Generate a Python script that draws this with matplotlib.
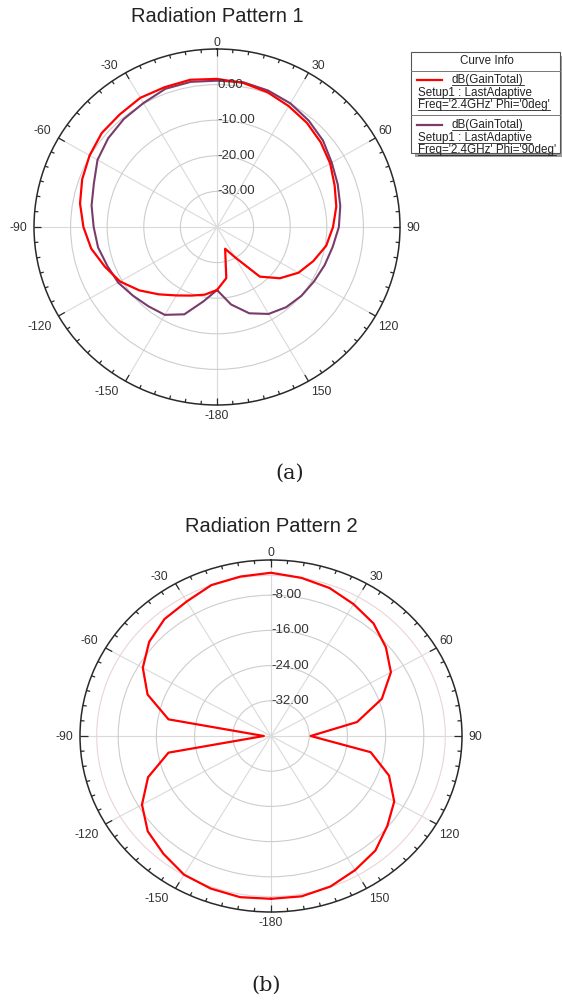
import matplotlib.pyplot as plt
import numpy as np
from matplotlib.lines import Line2D
from matplotlib.patches import Rectangle

plt.rcParams['font.family'] = ['Liberation Sans', 'DejaVu Sans']

W, H = 562, 1000

# Data (angle in deg, gain in dB)
angles = [-180, -170, -160, -150, -140, -130, -120, -110, -100, -90, -80, -70,
          -60, -50, -40, -30, -20, -10, 0, 10, 20, 30, 40, 50,
          60, 70, 80, 90, 100, 110, 120, 130, 140, 150, 160, 170]

gain_phi0 = [-22.3, -20.7, -19.5, -17.8, -15.3, -12.3, -9.4, -7.4, -5.1, -3.5, -2.0, -0.8,
             0.2, 1.1, 1.3, 1.9, 1.8, 2.0, 1.6, 1.1, 0.3, -0.8, -1.8, -3.0,
             -4.3, -5.8, -6.9, -8.3, -9.7, -12.0, -14.3, -17.6, -21.8, -30.2, -33.5, -25.4]

gain_phi90 = [-22.3, -18.8, -13.9, -11.5, -10.9, -10.0, -8.8, -8.1, -7.0, -6.3, -5.2, -4.2,
              -2.3, -1.2, -0.4, 0.2, 1.3, 1.4, 1.1, 1.3, 0.8, 0.1, -1.0, -2.2,
              -3.8, -4.9, -5.8, -6.7, -7.9, -8.7, -9.4, -9.9, -10.6, -11.8, -14.2, -17.9]

gain_2 = [-3.0, -2.8, -3.1, -3.6, -5.0, -6.3, -8.8, -12.6, -18.2, -38.5, -18.2, -12.5,
          -9.0, -6.7, -5.3, -4.7, -3.5, -3.2, -2.9, -3.5, -4.2, -5.4, -6.6, -8.6,
          -11.0, -15.3, -21.7, -31.7, -18.8, -13.7, -10.2, -8.2, -6.0, -4.8, -3.6, -3.0]

theta_ticks = [0, 30, 60, 90, 120, 150, 180, 210, 240, 270, 300, 330]
theta_labels = ['0', '30', '60', '90', '120', '150', '-180', '-150', '-120', '-90', '-60', '-30']

rings_1 = [-30, -20, -10, 0]
ring_labels_1 = ['-30.00', '-20.00', '-10.00', '0.00']
rings_2 = [-32, -24, -16, -8]
ring_labels_2 = ['-32.00', '-24.00', '-16.00', '-8.00']


def fx(x):
    return x / W


def fy(y):
    return 1 - y / H


def setup_polar(ax, rmin, rmax, rings, ring_labels, tick_db):
    ax.set_aspect('auto')
    ax.set_theta_zero_location('N')
    ax.set_theta_direction(-1)
    ax.set_ylim(rmin, rmax)
    ax.set_xticks(np.deg2rad(theta_ticks))
    ax.set_xticklabels([])
    ax.set_yticks(rings)
    ax.set_yticklabels([])
    ax.grid(True, axis='x', color='#dadada', lw=0.8)
    ax.grid(True, axis='y', color='#cdcdcd', lw=0.8)
    ax.spines['polar'].set_color('#2a2a2a')
    ax.spines['polar'].set_linewidth(1.1)
    # tick marks on the outer ring, every 5 deg, longer every 30 deg
    for a in range(0, 360, 5):
        ln = 2 * tick_db if a % 30 == 0 else tick_db
        ax.plot([np.deg2rad(a)] * 2, [rmax, rmax - ln], color='#2a2a2a',
                lw=0.9, clip_on=False, solid_capstyle='butt')
    for r, s in zip(rings, ring_labels):
        ax.text(0, r, s, ha='left', va='center', fontsize=9.5, color='#333333')
    ax.set_ylim(rmin, rmax)


def closed(a, g):
    t = np.deg2rad(list(a) + [a[0]])
    return t, list(g) + [g[0]]


fig = plt.figure(figsize=(W / 100, H / 100), dpi=100)
fig.patch.set_facecolor('white')

# Pattern 1  (centre 217,227 ; radii 183 x 178 px)
ax1 = fig.add_axes([fx(34), fy(405), 366 / W, 356 / H], projection='polar')
setup_polar(ax1, -40, 10, rings_1, ring_labels_1, 1.0)
t, g = closed(angles, gain_phi90)
ax1.plot(t, g, color='#7a3b6b', lw=1.5)
t, g = closed(angles, gain_phi0)
ax1.plot(t, g, color='#ff0000', lw=1.6)

# Pattern 2  (centre 271,736 ; radii 191 x 176 px)
ax2 = fig.add_axes([fx(80), fy(912), 382 / W, 352 / H], projection='polar')
setup_polar(ax2, -40, 0, rings_2, ring_labels_2, 0.8)
th = np.linspace(0, 2 * np.pi, 361)
ax2.plot(th, np.full_like(th, -3.5), color='#ecd3d6', lw=0.8)
t, g = closed(angles, gain_2)
ax2.plot(t, g, color='#ff0000', lw=1.6)

# angle labels just outside the outer ring
for cx, cy, rx, ry in [(217, 227, 183, 178), (271, 736, 191, 176)]:
    for a, s in zip(theta_ticks, theta_labels):
        sa, ca = np.sin(np.deg2rad(a)), np.cos(np.deg2rad(a))
        ex, ey = cx + rx * sa, cy - ry * ca
        if ca > 0.1:
            ey -= 6.5
        elif ca < -0.1:
            ey += 11
        else:
            ey += 1
        if sa > 0.1:
            ha = 'left'
            ex += 6 if abs(ca) < 0.1 else 3
        elif sa < -0.1:
            ha = 'right'
            ex -= 7
        else:
            ha = 'center'
        fig.text(fx(ex), fy(ey), s, ha=ha, va='center', fontsize=8.8, color='#333333')

# Titles and captions
fig.text(fx(217), fy(17), 'Radiation Pattern 1', ha='center', va='center',
         fontsize=14.5, color='#222222')
fig.text(fx(271), fy(527), 'Radiation Pattern 2', ha='center', va='center',
         fontsize=14.5, color='#222222')
fig.text(fx(290), fy(473), '(a)', ha='center', va='center', fontsize=15,
         family='DejaVu Serif', color='#222222')
fig.text(fx(266), fy(985), '(b)', ha='center', va='center', fontsize=15,
         family='DejaVu Serif', color='#222222')

# Legend box ("Curve Info")
fig.add_artist(Rectangle((fx(415), fy(157)), (560 - 411) / W, (153 - 52) / H,
                         transform=fig.transFigure, fc='#9c9c9c', ec='none'))
fig.add_artist(Rectangle((fx(411), fy(153)), (560 - 411) / W, (153 - 52) / H,
                         transform=fig.transFigure, fc='white', ec='#555555', lw=0.8))
for yy in [71, 115]:
    fig.add_artist(Line2D([fx(411), fx(560)], [fy(yy), fy(yy)],
                          transform=fig.transFigure, color='#777777', lw=0.7))
fig.text(fx(487), fy(61), 'Curve Info', ha='center', va='center', fontsize=8.4,
         color='#222222')

legend_entries = [('#ff0000', "Freq='2.4GHz' Phi='0deg'", 80),
                  ('#7a3b6b', "Freq='2.4GHz' Phi='90deg'", 125)]
under = []
for col, freq, y0 in legend_entries:
    fig.add_artist(Line2D([fx(417), fx(442)], [fy(y0), fy(y0)],
                          transform=fig.transFigure, color=col, lw=1.6))
    under.append(fig.text(fx(452), fy(y0), 'dB(GainTotal)', ha='left', va='center',
                          fontsize=8.4, color='#222222'))
    under.append(fig.text(fx(418), fy(y0 + 13), 'Setup1 : LastAdaptive', ha='left',
                          va='center', fontsize=8.4, color='#222222'))
    under.append(fig.text(fx(418), fy(y0 + 25), freq, ha='left', va='center',
                          fontsize=8.4, color='#222222'))

fig.canvas.draw()
for tx in under:
    bb = tx.get_window_extent()
    yl = (bb.y0 + 1.0) / H
    fig.add_artist(Line2D([bb.x0 / W, bb.x1 / W], [yl, yl],
                          transform=fig.transFigure, color='#222222', lw=0.6))

fig.savefig('out.png', dpi=100, facecolor='white')
